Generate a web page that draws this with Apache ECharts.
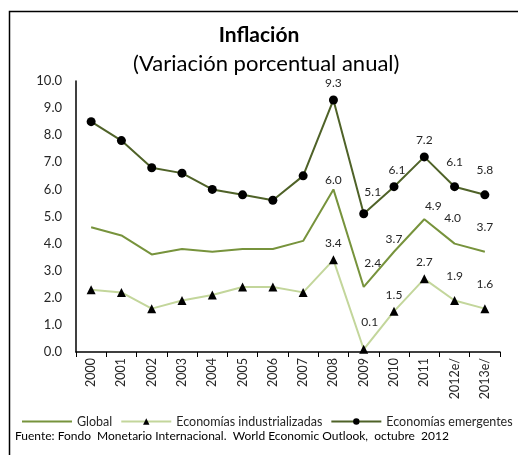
<!DOCTYPE html>
<html>
<head>
    <meta charset="utf-8">
    <title>Inflación</title>
    <script src="https://cdn.jsdelivr.net/npm/echarts@6/dist/echarts.min.js"></script>
    <style>
        html, body { margin: 0; padding: 0; background: #fff; }
    </style>
</head>
<body>
    <div id="main" style="width: 518px;height:455px;"></div>
    <script type="text/javascript">
        // datos
        var years = ['2000', '2001', '2002', '2003', '2004', '2005', '2006', '2007',
            '2008', '2009', '2010', '2011', '2012e/', '2013e/'];
        var global = [4.6, 4.3, 3.6, 3.8, 3.7, 3.8, 3.8, 4.1, 6.0, 2.4, 3.7, 4.9, 4.0, 3.7];
        var industrializadas = [2.3, 2.2, 1.6, 1.9, 2.1, 2.4, 2.4, 2.2, 3.4, 0.1, 1.5, 2.7, 1.9, 1.6];
        var emergentes = [8.5, 7.8, 6.8, 6.6, 6.0, 5.8, 5.6, 6.5, 9.3, 5.1, 6.1, 7.2, 6.1, 5.8];
        var yTicks = [0, 1, 2, 3, 4, 5, 6, 7, 8, 9, 10];

        var font = 'Lato';
        var firstLabel = 8; // solo 2008 en adelante lleva etiqueta

        // ajustes de posicion de algunas etiquetas
        var offsets = {
            global: { 8: [0, 4], 9: [9, -11], 11: [9, 0], 12: [-2, -12], 13: [0, -12] },
            industrializadas: { 9: [6, -11], 12: [0, -8], 13: [0, -8] },
            emergentes: { 9: [9, -5], 10: [3, 0], 12: [0, -8], 13: [0, -8] }
        };

        function withLabels(values, key) {
            return values.map(function (v, i) {
                var item = { value: v };
                if (i >= firstLabel) {
                    item.label = { show: true };
                    if (offsets[key][i]) {
                        item.label.offset = offsets[key][i];
                    }
                }
                return item;
            });
        }

        var labelStyle = {
            show: false,
            position: 'top',
            distance: 6,
            color: '#262626',
            fontFamily: font,
            fontSize: 12,
            formatter: function (p) { return p.value.toFixed(1); }
        };

        var myChart = echarts.init(document.getElementById('main'));
        var option = {
            backgroundColor: '#fff',
            animation: false,
            title: [{
                text: 'Inflación',
                left: 'center',
                top: 20,
                textStyle: { fontFamily: font, fontSize: 21, fontWeight: 'bold', color: '#000' }
            }, {
                text: '(Variación porcentual anual)',
                left: 128,
                top: 48,
                textStyle: { fontFamily: font, fontSize: 22, fontWeight: 'normal', color: '#000' }
            }],
            graphic: [{
                type: 'rect',
                shape: { x: 9.5, y: 11.5, width: 540, height: 470 },
                style: { fill: null, stroke: '#000', lineWidth: 1.5 },
                silent: true
            }, {
                type: 'text',
                left: 15,
                top: 430,
                style: {
                    text: 'Fuente: Fondo  Monetario Internacional.  World Economic Outlook,  octubre  2012',
                    fontFamily: font,
                    fontSize: 12,
                    fill: '#000'
                }
            }],
            legend: {
                left: 16,
                top: 410,
                itemWidth: 50,
                itemHeight: 8,
                itemGap: 8,
                textStyle: { fontFamily: font, fontSize: 12.5, color: '#262626' },
                data: ['Global', 'Economías industrializadas', 'Economías emergentes']
            },
            grid: { left: 76, right: 18, top: 81, bottom: 103 },
            xAxis: {
                type: 'category',
                data: years,
                boundaryGap: true,
                axisLine: { lineStyle: { color: '#000', width: 1.5 } },
                axisTick: { show: true, length: 5, lineStyle: { color: '#000' } },
                axisLabel: {
                    rotate: 90,
                    interval: 0,
                    fontFamily: font,
                    fontSize: 12.5,
                    color: '#262626',
                    margin: 6
                }
            },
            yAxis: {
                type: 'value',
                min: yTicks[0],
                max: yTicks[yTicks.length - 1],
                interval: 1,
                axisLine: { show: true, lineStyle: { color: '#000', width: 1.5 } },
                axisTick: { show: false },
                splitLine: { show: false },
                axisLabel: {
                    fontFamily: font,
                    fontSize: 13,
                    color: '#262626',
                    margin: 14,
                    formatter: function (v) { return v.toFixed(1); }
                }
            },
            series: [{
                name: 'Global',
                type: 'line',
                data: withLabels(global, 'global'),
                symbol: 'circle',
                symbolSize: 2,
                lineStyle: { color: '#77933C', width: 2 },
                itemStyle: { color: 'rgba(0,0,0,0)' },
                label: labelStyle
            }, {
                name: 'Economías industrializadas',
                type: 'line',
                data: withLabels(industrializadas, 'industrializadas'),
                symbol: 'triangle',
                symbolSize: 9,
                lineStyle: { color: '#C3D69B', width: 2 },
                itemStyle: { color: '#000' },
                label: labelStyle
            }, {
                name: 'Economías emergentes',
                type: 'line',
                data: withLabels(emergentes, 'emergentes'),
                symbol: 'circle',
                symbolSize: 9,
                lineStyle: { color: '#4F6228', width: 2 },
                itemStyle: { color: '#000' },
                label: labelStyle
            }]
        };
        myChart.setOption(option);
    </script>
</body>
</html>
